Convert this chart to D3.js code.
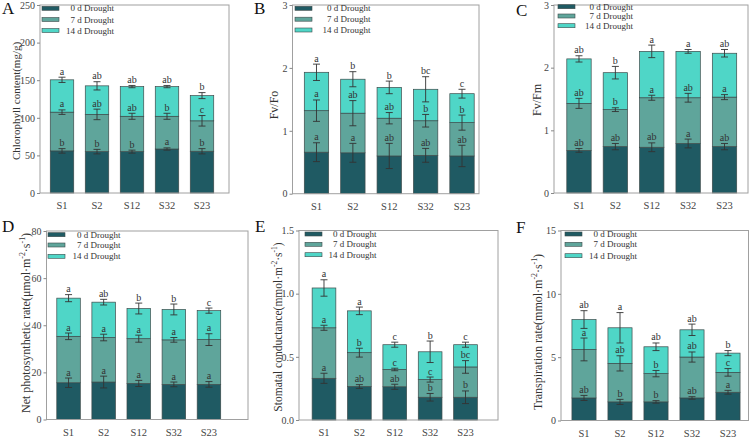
<!DOCTYPE html>
<html>
<head>
<meta charset="utf-8">
<script src="https://cdn.jsdelivr.net/npm/d3@7"></script>
<style>
  body { margin: 0; background: #fff; }
  svg { display: block; }
  svg text { font-family: "Liberation Serif", "Times New Roman", serif; }
</style>
</head>
<body>
<svg id="chart" width="750" height="438"></svg>
<script>
const groups = ["S1", "S2", "S12", "S32", "S23"];
const stages = ["0 d Drought", "7 d Drought", "14 d Drought"];

// segment heights per stage (0 d, 7 d, 14 d), error bars and letters
const chlValues = [[56, 55, 55, 58.5, 55.5], [51.5, 49.5, 47, 43.5, 40.5], [43, 38, 39.5, 39.5, 33.5]];
const chlErrors = [[3, 3, 2, 1.5, 3.5], [3, 7, 4, 4, 7], [3.5, 5.5, 1.5, 1.5, 4]];
const chlLetters = [["b", "b", "b", "a", "b"], ["a", "ab", "ab", "b", "c"], ["a", "ab", "ab", "ab", "b"]];

const fvfoValues = [[0.66, 0.65, 0.60, 0.61, 0.60], [0.66, 0.63, 0.60, 0.55, 0.53], [0.61, 0.54, 0.49, 0.50, 0.46]];
const fvfoErrors = [[0.15, 0.15, 0.2, 0.11, 0.17], [0.17, 0.2, 0.09, 0.1, 0.12], [0.13, 0.12, 0.1, 0.2, 0.07]];
const fvfoLetters = [["a", "a", "ab", "ab", "ab"], ["a", "ab", "ab", "b", "b"], ["a", "b", "b", "bc", "c"]];

const fvfmValues = [[0.68, 0.74, 0.73, 0.79, 0.74], [0.75, 0.59, 0.79, 0.73, 0.79], [0.71, 0.59, 0.74, 0.74, 0.70]];
const fvfmErrors = [[0.03, 0.05, 0.07, 0.07, 0.05], [0.08, 0.03, 0.04, 0.07, 0.04], [0.05, 0.1, 0.1, 0.03, 0.06]];
const fvfmLetters = [["ab", "ab", "ab", "a", "ab"], ["ab", "b", "a", "ab", "a"], ["ab", "b", "a", "a", "ab"]];

const pnValues = [[15.6, 15.9, 15.3, 14.9, 14.9], [19.7, 18.9, 19.0, 18.9, 19.0], [16.2, 15.0, 12.8, 12.9, 12.3]];
const pnErrors = [[2, 2.5, 1.3, 1, 1.2], [1.4, 1.4, 1.5, 1, 2.5], [1.5, 1.2, 2.3, 2.3, 1.1]];
const pnLetters = [["a", "a", "a", "a", "a"], ["a", "a", "a", "a", "a"], ["a", "ab", "b", "b", "c"]];

const gsValues = [[0.33, 0.265, 0.263, 0.18, 0.18], [0.40, 0.268, 0.137, 0.14, 0.24], [0.315, 0.331, 0.196, 0.22, 0.176]];
const gsErrors = [[0.04, 0.015, 0.02, 0.03, 0.05], [0.02, 0.035, 0.01, 0.02, 0.05], [0.065, 0.03, 0.02, 0.085, 0.02]];
const gsLetters = [["a", "ab", "ab", "b", "b"], ["a", "b", "c", "c", "bc"], ["a", "a", "c", "b", "c"]];

const trValues = [[1.78, 1.47, 1.47, 1.78, 2.23], [3.83, 3.04, 2.23, 3.23, 1.57], [2.36, 2.81, 2.12, 2.15, 1.52]];
const trErrors = [[0.2, 0.2, 0.1, 0.1, 0.15], [0.9, 0.6, 0.25, 0.4, 0.3], [0.7, 1.2, 0.3, 0.45, 0.2]];
const trLetters = [["ab", "b", "b", "ab", "a"], ["a", "ab", "b", "ab", "c"], ["ab", "a", "ab", "ab", "b"]];

const yTicksA = [0, 50, 100, 150, 200, 250];
const yTicksB = [0, 1, 2, 3];
const yTicksD = [0, 20, 40, 60, 80];
const yTicksE = [0, 0.5, 1.0, 1.5];
const yTicksF = [0, 5, 10, 15];

const colors = ["#1f5a63", "#5fa59b", "#4fd6c7"];

// layout of the six panels (frame box, band range, label placement)
const panels = [
  { tag: "A", values: chlValues, errors: chlErrors, letters: chlLetters, ticks: yTicksA, fmt: d3.format("d"),
    title: ["Chlorophyll content(mg/g)"], titleSize: 11,
    frame: [40, 229, 5, 193], band: [44.5, 219.5], titleX: 20, titleY: 101, tagX: 2, tagY: 14,
    legX: 42, legTextX: 114, legY: [8.3, 19.5, 30.5] },
  { tag: "B", values: fvfoValues, errors: fvfoErrors, letters: fvfoLetters, ticks: yTicksB, fmt: d3.format("d"),
    title: ["Fv/Fo"], titleSize: 12,
    frame: [292.5, 479, 5, 193.7], band: [298.3, 480.2], titleX: 278, titleY: 105, tagX: 254, tagY: 14,
    legX: 295, legTextX: 370.5, legY: [8.3, 19.2, 30] },
  { tag: "C", values: fvfmValues, errors: fvfmErrors, letters: fvfmLetters, ticks: yTicksB, fmt: d3.format("d"),
    title: ["Fv/Fm"], titleSize: 12,
    frame: [554, 748, 5, 193], band: [560.8, 742.7], titleX: 541, titleY: 100, tagX: 516, tagY: 16,
    legX: 558, legTextX: 633, legY: [6.7, 16, 25.7] },
  { tag: "D", values: pnValues, errors: pnErrors, letters: pnLetters, ticks: yTicksD, fmt: d3.format("d"),
    title: ["Net photosynthetic rate(μmol·m", "-2", "·s", "-1", ")"], titleSize: 12,
    frame: [46.5, 248, 231, 419.5], band: [51, 226.5], titleX: 29.5, titleY: 323, tagX: 2, tagY: 232,
    legX: 48, legTextX: 120.5, legY: [234.7, 245, 256.3] },
  { tag: "E", values: gsValues, errors: gsErrors, letters: gsLetters, ticks: yTicksE, fmt: d3.format(".1f"),
    title: ["Stomatal conductance(mmol·m", "-2", "·s", "-1", ")"], titleSize: 11.5,
    frame: [299, 498, 230.5, 420], band: [306.3, 483.2], titleX: 282, titleY: 327, tagX: 255, tagY: 232,
    legX: 305, legTextX: 376.5, legY: [234, 244.3, 254.7] },
  { tag: "F", values: trValues, errors: trErrors, letters: trLetters, ticks: yTicksF, fmt: d3.format("d"),
    title: ["Transpiration rate(mmol·m", "-2", "·s", "-1", ")"], titleSize: 12,
    frame: [561, 748.5, 230.5, 420.5], band: [566, 746], titleX: 542, titleY: 332, tagX: 516, tagY: 233,
    legX: 565, legTextX: 637, legY: [234, 244.3, 255.7] }
];

const svg = d3.select("#chart");

panels.forEach(p => {
  const [left, right, top, bottom] = p.frame;
  const g = svg.append("g");

  const x = d3.scaleBand().domain(groups).range(p.band).paddingInner(0.33).paddingOuter(0.165);
  const y = d3.scaleLinear().domain([p.ticks[0], p.ticks[p.ticks.length - 1]]).range([bottom, top]);

  // rows for d3.stack
  const rows = groups.map((grp, i) => {
    const r = { group: grp };
    stages.forEach((s, k) => { r[s] = p.values[k][i]; });
    return r;
  });
  const series = d3.stack().keys(stages)(rows);

  // stacked bars
  g.selectAll(".layer")
    .data(series)
    .join("g")
    .attr("fill", (d, k) => colors[k])
    .selectAll("rect")
    .data(d => d)
    .join("rect")
    .attr("x", d => x(d.data.group))
    .attr("width", x.bandwidth())
    .attr("y", d => y(d[1]))
    .attr("height", d => y(d[0]) - y(d[1]))
    .attr("stroke", "#3d4a4a")
    .attr("stroke-width", 0.7);

  // error bars and letters
  series.forEach((s, k) => {
    s.forEach((d, i) => {
      const cx = x(d.data.group) + x.bandwidth() / 2;
      const err = p.errors[k][i];
      const hi = y(d[1] + err), lo = y(d[1] - err);
      const cap = 3.5;
      g.append("line").attr("x1", cx).attr("x2", cx).attr("y1", hi).attr("y2", lo)
        .attr("stroke", "#333").attr("stroke-width", 0.9);
      [hi, lo].forEach(yy => {
        g.append("line").attr("x1", cx - cap).attr("x2", cx + cap).attr("y1", yy).attr("y2", yy)
          .attr("stroke", "#333").attr("stroke-width", 0.9);
      });
      g.append("text")
        .attr("x", cx).attr("y", hi - 2.5)
        .attr("text-anchor", "middle")
        .attr("font-size", 10)
        .attr("fill", "#333")
        .text(p.letters[k][i]);
    });
  });

  // frame
  g.append("rect")
    .attr("x", left).attr("y", top)
    .attr("width", right - left).attr("height", bottom - top)
    .attr("fill", "none").attr("stroke", "#a0a0a0").attr("stroke-width", 1);

  // y axis
  const yAxis = g.append("g")
    .attr("transform", `translate(${left},0)`)
    .call(d3.axisLeft(y).tickValues(p.ticks).tickFormat(p.fmt).tickSize(3).tickPadding(2))
    .attr("font-family", null);
  yAxis.select(".domain").remove();
  yAxis.selectAll("line").attr("stroke", "#888");
  yAxis.selectAll("text").attr("font-size", 10).attr("fill", "#444");

  // x axis
  const xAxis = g.append("g")
    .attr("transform", `translate(0,${bottom})`)
    .call(d3.axisBottom(x).tickSize(0).tickPadding(9))
    .attr("font-family", null);
  xAxis.select(".domain").remove();
  xAxis.selectAll("text").attr("font-size", 10.5).attr("fill", "#444");

  // y title
  const t = g.append("text")
    .attr("transform", `translate(${p.titleX},${p.titleY}) rotate(-90)`)
    .attr("text-anchor", "middle")
    .attr("font-size", p.titleSize)
    .attr("fill", "#333");
  p.title.forEach((part, j) => {
    const sup = j % 2 === 1;
    t.append("tspan")
      .attr("font-size", sup ? p.titleSize * 0.65 : p.titleSize)
      .attr("dy", sup ? -p.titleSize * 0.4 : (j > 0 ? p.titleSize * 0.4 : 0))
      .text(part);
  });

  // panel tag
  g.append("text")
    .attr("x", p.tagX).attr("y", p.tagY)
    .attr("font-size", 17)
    .attr("fill", "#111")
    .text(p.tag);

  // legend
  stages.forEach((s, k) => {
    g.append("rect")
      .attr("x", p.legX).attr("y", p.legY[k] - 2)
      .attr("width", 17).attr("height", 4)
      .attr("fill", colors[k]).attr("stroke", "#3d4a4a").attr("stroke-width", 0.6);
    g.append("text")
      .attr("x", p.legTextX).attr("y", p.legY[k] + 3)
      .attr("text-anchor", "end")
      .attr("font-size", 9)
      .attr("fill", "#333")
      .text(s);
  });
});
</script>
</body>
</html>
